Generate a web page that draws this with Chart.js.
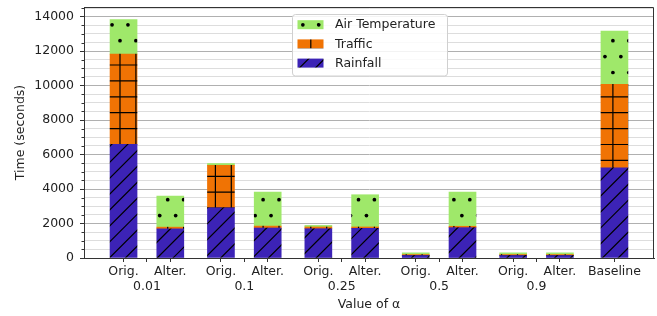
<!DOCTYPE html>
<html>
<head>
<meta charset="utf-8">
<script src="https://cdn.jsdelivr.net/npm/chart.js@4.4.0/dist/chart.umd.min.js"></script>
<style>
  html, body { margin: 0; padding: 0; background: #fff; }
  #wrap { width: 657px; height: 316px; }
</style>
</head>
<body>
<div id="wrap"><canvas id="myChart" width="657" height="316"></canvas></div>
<script>
// data (seconds)
const alphas = ['0.01', '0.1', '0.25', '0.5', '0.9'];
const variants = ['Orig.', 'Alter.'];
const baselineLabel = 'Baseline';
const rainfall = [6600, 1690, 2910, 1740, 1700, 1720, 140, 1760, 140, 140, 5230];
const traffic  = [5230, 100, 2460, 110, 100, 80, 60, 80, 60, 60, 4840];
const airTemp  = [2000, 1800, 110, 1970, 90, 1870, 100, 1980, 100, 100, 3100];
const yTickLabels = [0, 2000, 4000, 6000, 8000, 10000, 12000, 14000];

// layout of the bars on a numeric x axis: group centre at g, members at g -/+ 0.24
const pairOffset = 0.24;
const baselinePos = 4.8;
const barPos = [];
const xTicks = [];
alphas.forEach((a, g) => {
    barPos.push(g - pairOffset, g + pairOffset);
    xTicks.push({ value: g - pairOffset, label: variants[0] });
    xTicks.push({ value: g, label: ['', a] });
    xTicks.push({ value: g + pairOffset, label: variants[1] });
});
barPos.push(baselinePos);
xTicks.push({ value: baselinePos, label: baselineLabel });

const yMax = 14560;
const yMinorStep = (yTickLabels[1] - yTickLabels[0]) / 4;
const yTicks = [];
for (let v = 0; v <= yMax; v += yMinorStep) yTicks.push(v);

const canvas = document.getElementById('myChart');
const ctx = canvas.getContext('2d');

// matplotlib-like hatches, tile of 10 periods so spacing stays 15.9px
const S = 15.9, T = 159;
function hatch(color, kind) {
    const tile = document.createElement('canvas');
    tile.width = T; tile.height = T;
    const g = tile.getContext('2d');
    g.fillStyle = color;
    g.fillRect(0, 0, T, T);
    g.strokeStyle = '#000';
    g.fillStyle = '#000';
    g.lineWidth = 1.2;
    if (kind === 'dots') {
        for (let j = 0; j < 10; j++) {
            const y = 8.9 + j * S;
            const x0 = j % 2 === 0 ? 8.7 : 0.75;
            for (let i = -1; i <= 10; i++) {
                g.beginPath();
                g.arc(x0 + i * S, y, 1.85, 0, Math.PI * 2);
                g.fill();
            }
        }
    } else if (kind === 'plus') {
        g.beginPath();
        for (let k = 0; k < 10; k++) {
            g.moveTo(0, 1.4 + k * S); g.lineTo(T, 1.4 + k * S);
            g.moveTo(8.7 + k * S, 0); g.lineTo(8.7 + k * S, T);
        }
        g.stroke();
    } else {
        g.beginPath();
        for (let k = -2; k <= 22; k++) {
            const c = 1.7 + k * S;
            g.moveTo(-10, c + 10); g.lineTo(c + 10, -10);
        }
        g.stroke();
    }
    return ctx.createPattern(tile, 'repeat');
}

const toPoints = vals => vals.map((v, i) => ({ x: barPos[i], y: v }));
const isMajor = v => yTickLabels.includes(v);

Chart.defaults.font.family = '"DejaVu Sans"';
Chart.defaults.font.size = 12.5;
Chart.defaults.color = '#222';

const frame = {
    id: 'frame',
    afterDraw(chart) {
        const { ctx: c, chartArea: a } = chart;
        const ys = chart.scales.y;
        c.save();
        // top and right spines
        c.strokeStyle = '#333';
        c.lineWidth = 1;
        c.beginPath();
        c.moveTo(Math.round(a.left) + 0.5, Math.round(a.top) + 0.5);
        c.lineTo(Math.round(a.right) - 0.5, Math.round(a.top) + 0.5);
        c.lineTo(Math.round(a.right) - 0.5, Math.round(a.bottom));
        c.stroke();
        // minor y ticks
        c.beginPath();
        ys.ticks.forEach(t => {
            if (isMajor(t.value)) return;
            const y = Math.round(ys.getPixelForValue(t.value)) + 0.5;
            c.moveTo(a.left - 2.5, y); c.lineTo(a.left, y);
        });
        c.stroke();
        // legend (upper centre)
        const lw = 155, lh = 61.5;
        const lx = Math.round((a.left + a.right) / 2 - lw / 2) + 0.5;
        const ly = Math.round(a.top + 7) + 0.5;
        c.beginPath();
        c.roundRect(lx, ly, lw, lh, 3);
        c.fillStyle = 'rgba(255,255,255,0.85)';
        c.fill();
        c.strokeStyle = '#d0d0d0';
        c.stroke();
        c.font = '12.5px "DejaVu Sans"';
        c.textBaseline = 'middle';
        const ds = chart.data.datasets.slice().reverse();
        ds.forEach((d, i) => {
            const cy = ly + 10.2 + i * 19.2;
            c.fillStyle = d.backgroundColor;
            c.fillRect(lx + 5, cy - 4.5, 26, 9);
            c.fillStyle = '#222';
            c.fillText(d.label, lx + 42.5, cy + 0.5);
        });
        c.restore();
    }
};

new Chart(canvas, {
    type: 'bar',
    data: {
        datasets: [
            { label: 'Rainfall', data: toPoints(rainfall), backgroundColor: hatch('#3c23b6', 'diag') },
            { label: 'Traffic', data: toPoints(traffic), backgroundColor: hatch('#f07304', 'plus') },
            { label: 'Air Temperature', data: toPoints(airTemp), backgroundColor: hatch('#9fe86a', 'dots') }
        ]
    },
    options: {
        responsive: false,
        animation: false,
        devicePixelRatio: 1,
        barThickness: 27,
        borderWidth: 0,
        layout: { padding: { top: 7, right: 3, left: 0, bottom: 0 } },
        plugins: { legend: { display: false }, tooltip: { enabled: false } },
        scales: {
            x: {
                type: 'linear',
                stacked: true,
                offset: false,
                min: -0.646,
                max: 5.206,
                afterBuildTicks: s => { s.ticks = xTicks.map(t => ({ value: t.value })); },
                afterFit: s => { s.height = 58; s.paddingLeft = 0; s.paddingRight = 0; },
                ticks: {
                    autoSkip: false,
                    maxRotation: 0,
                    padding: 2,
                    callback: (v, i) => xTicks[i].label
                },
                grid: { drawOnChartArea: false, offset: false, tickLength: 4, tickColor: '#333' },
                border: { color: '#333', width: 1 },
                title: { display: true, text: 'Value of α', padding: { top: 0, bottom: 3.5 } }
            },
            y: {
                stacked: true,
                min: 0,
                max: yMax,
                afterBuildTicks: s => { s.ticks = yTicks.map(v => ({ value: v })); },
                afterFit: s => { s.width = 84; s.paddingTop = 0; s.paddingBottom = 0; },
                ticks: {
                    autoSkip: false,
                    padding: 6,
                    callback: v => isMajor(v) ? String(v) : ''
                },
                grid: {
                    tickLength: 4,
                    color: c => isMajor(c.tick.value) ? '#b0b0b0' : '#dddddd',
                    tickColor: c => isMajor(c.tick.value) ? '#333' : 'rgba(0,0,0,0)'
                },
                border: { color: '#333', width: 1 },
                title: { display: true, text: 'Time (seconds)', padding: { top: 13, bottom: 0 } }
            }
        }
    },
    plugins: [frame]
});
</script>
</body>
</html>
